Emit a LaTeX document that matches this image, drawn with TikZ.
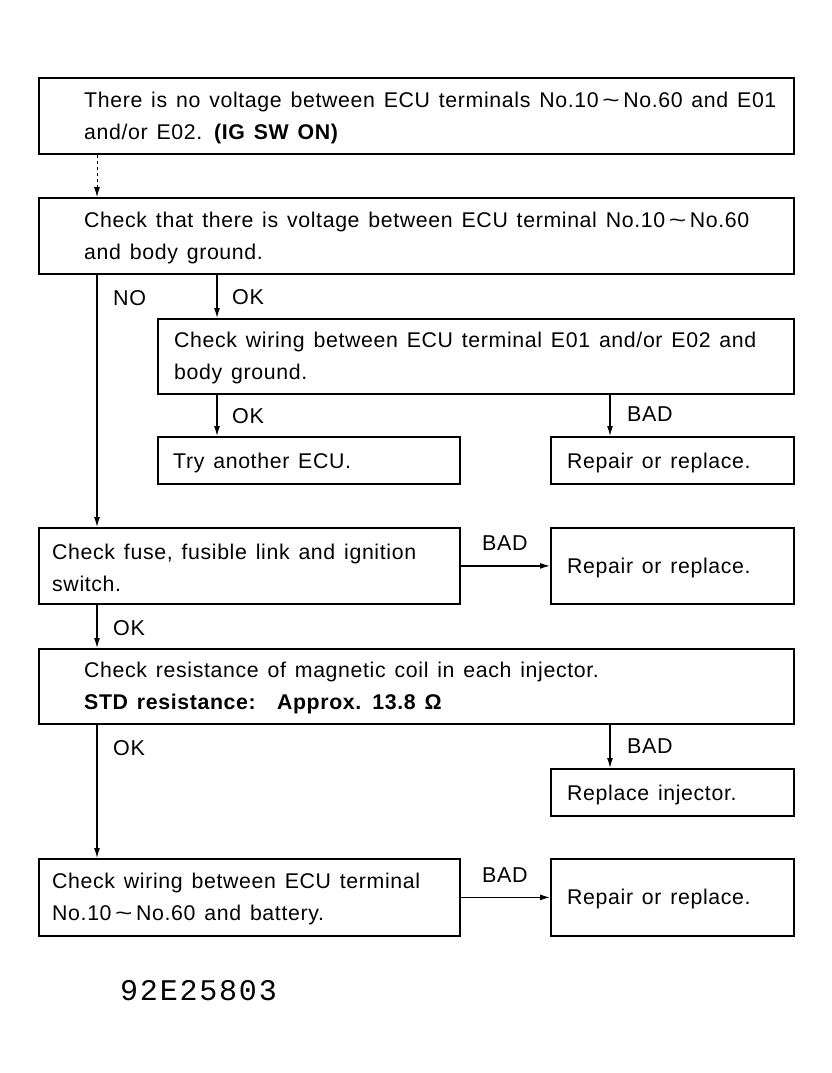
\documentclass[tikz,border=0pt]{standalone}
\usepackage{fontspec}
\setmainfont{Liberation Sans}[LetterSpace=3,WordSpace=1.35]
\newfontfamily\idfont{Liberation Mono}[LetterSpace=6]
\usetikzlibrary{arrows.meta,calc}
\newcommand\mytil{\,\scalebox{1.4}[1]{\textasciitilde}\,}
\begin{document}
\begin{tikzpicture}[x=1pt,y=-1pt,
  box/.style={draw, line width=1.8pt, rectangle, anchor=north west, inner sep=0pt},
  txt/.style={anchor=west, align=left, inner sep=0pt, font=\fontsize{21.3}{32}\selectfont},
  lbl/.style={anchor=west, inner sep=0pt, font=\fontsize{21.5}{24}\selectfont},
  arr/.style={line width=1.2pt, -{Latex[length=10pt,width=6pt]}}]
\useasboundingbox (0,0) rectangle (831,1073);
% boxes
\node[box, minimum width=755pt, minimum height=76pt] (b1) at (38,77) {};
\node[box, minimum width=755pt, minimum height=76pt] (b2) at (38,197) {};
\node[box, minimum width=636pt, minimum height=75pt] (b3) at (157,318) {};
\node[box, minimum width=302pt, minimum height=47pt] (b4) at (157,436) {};
\node[box, minimum width=243pt, minimum height=47pt] (b5) at (550,436) {};
\node[box, minimum width=421pt, minimum height=76pt] (b6) at (38,527) {};
\node[box, minimum width=243pt, minimum height=76pt] (b7) at (550,527) {};
\node[box, minimum width=755pt, minimum height=75pt] (b8) at (38,648) {};
\node[box, minimum width=243pt, minimum height=47pt] (b9) at (550,768) {};
\node[box, minimum width=421pt, minimum height=77pt] (b10) at (38,858) {};
\node[box, minimum width=243pt, minimum height=77pt] (b11) at (550,858) {};
% texts
\node[txt] (t1) at ($(b1.west)+(46,2)$) {There is no voltage between ECU terminals No.10\mytil No.60 and E01\\and/or E02. \textbf{(IG SW ON)}};
\node[txt] (t2) at ($(b2.west)+(46,2)$) {Check that there is voltage between ECU terminal No.10\mytil No.60\\and body ground.};
\node[txt] (t3) at ($(b3.west)+(17,2)$) {Check wiring between ECU terminal E01 and/or E02 and\\body ground.};
\node[txt] (t4) at ($(b4.west)+(16,3)$) {Try another ECU.};
\node[txt] (t5) at ($(b5.west)+(17,3)$) {Repair or replace.};
\node[txt] (t6) at ($(b6.west)+(14,2)$) {Check fuse, fusible link and ignition\\switch.};
\node[txt] (t7) at ($(b7.west)+(17,2)$) {Repair or replace.};
\node[txt] (t8) at ($(b8.west)+(46,2)$) {Check resistance of magnetic coil in each injector.\\\textbf{STD resistance:\quad Approx. 13.8 Ω}};
\node[txt] (t9) at ($(b9.west)+(17,3)$) {Replace injector.};
\node[txt] (t10) at ($(b10.west)+(14,2)$) {Check wiring between ECU terminal\\No.10\mytil No.60 and battery.};
\node[txt] (t11) at ($(b11.west)+(17,2)$) {Repair or replace.};
% column coordinates
\coordinate (cA) at (97,0);
\coordinate (cB) at (217,0);
\coordinate (cC) at (610,0);
% connectors
\draw[arr, dashed, line width=0.8pt] (b1.south -| cA) -- (b2.north -| cA);
\draw[arr] (b2.south -| cA) -- (b6.north -| cA);
\draw[arr] (b2.south -| cB) -- (b3.north -| cB);
\draw[arr] (b3.south -| cB) -- (b4.north -| cB);
\draw[arr] (b3.south -| cC) -- (b5.north -| cC);
\draw[arr] (b6.east) -- (b7.west);
\draw[arr] (b6.south -| cA) -- (b8.north -| cA);
\draw[arr] (b8.south -| cA) -- (b10.north -| cA);
\draw[arr] (b8.south -| cC) -- (b9.north -| cC);
\draw[arr] (b10.east) -- (b11.west);
% labels
\node[lbl] (l1) at (113,298) {NO};
\node[lbl] (l2) at (232,297) {OK};
\node[lbl] (l3) at (232,416) {OK};
\node[lbl] (l4) at (627,414) {BAD};
\node[lbl] (l5) at (482,543) {BAD};
\node[lbl] (l6) at (113,628) {OK};
\node[lbl] (l7) at (113,748) {OK};
\node[lbl] (l8) at (627,746) {BAD};
\node[lbl] (l9) at (482,875) {BAD};
% id
\node[anchor=base west, inner sep=0pt, font=\idfont\fontsize{30}{30}\selectfont] (id) at (120,1000) {92E25803};
\end{tikzpicture}
\end{document}
